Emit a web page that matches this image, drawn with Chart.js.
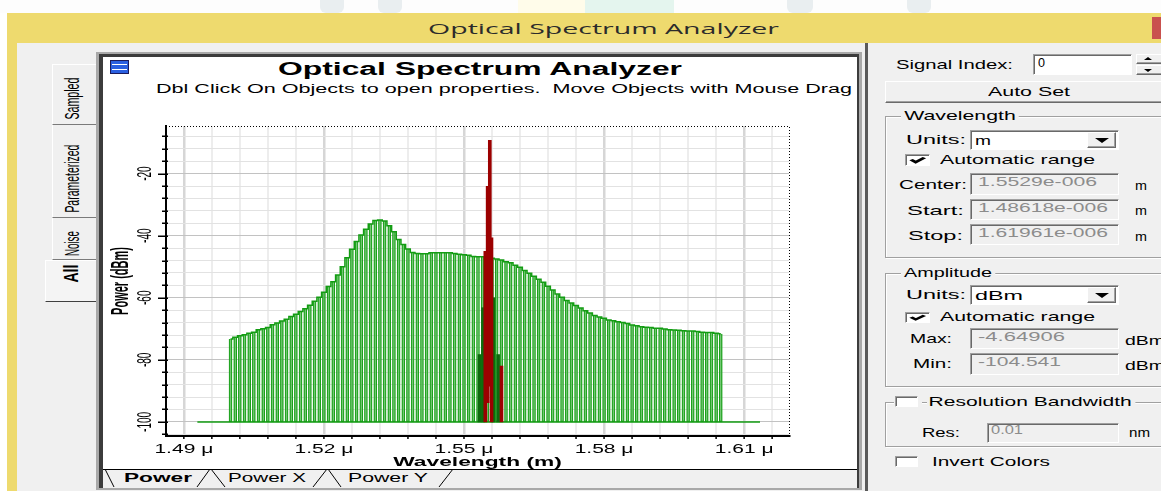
<!DOCTYPE html>
<html lang="en">
<head>
<meta charset="utf-8">
<title>Optical Spectrum Analyzer</title>
<script src="https://cdn.jsdelivr.net/npm/chart.js@4.4.1/dist/chart.umd.min.js"></script>
<style>
html,body{margin:0;padding:0;background:#fff;overflow:hidden;}
#root{position:relative;width:1161px;height:491px;overflow:hidden;font-family:"Liberation Sans",Arial,sans-serif;color:#000;}
#osa{position:absolute;left:104px;top:116px;width:752px;height:354px;}
</style>
</head>
<body>
<div id="root"></div>
<script>
// ---------------- data ----------------
const wavelengths = [
  1.500,1.501,1.502,1.503,1.504,1.505,1.506,1.507,1.508,1.509,
  1.510,1.511,1.512,1.513,1.514,1.515,1.516,1.517,1.518,1.519,
  1.520,1.521,1.522,1.523,1.524,1.525,1.526,1.527,1.528,1.529,
  1.530,1.531,1.532,1.533,1.534,1.535,1.536,1.537,1.538,1.539,
  1.540,1.541,1.542,1.543,1.544,1.545,1.546,1.547,1.548,1.549,
  1.550,1.551,1.552,1.553,1.554,1.555,1.556,1.557,1.558,1.559,
  1.560,1.561,1.562,1.563,1.564,1.565,1.566,1.567,1.568,1.569,
  1.570,1.571,1.572,1.573,1.574,1.575,1.576,1.577,1.578,1.579,
  1.580,1.581,1.582,1.583,1.584,1.585,1.586,1.587,1.588,1.589,
  1.590,1.591,1.592,1.593,1.594,1.595,1.596,1.597,1.598,1.599,
  1.600,1.601,1.602,1.603,1.604,1.605
];
const noisePower = [
  -73.3,-72.7,-72.2,-71.9,-71.4,-71.1,-70.3,-70.0,-69.6,-68.7,
  -68.1,-67.5,-66.9,-66.0,-65.3,-64.4,-63.5,-62.4,-61.1,-59.8,
  -58.2,-56.4,-54.8,-52.7,-50.0,-47.1,-44.4,-41.9,-39.8,-37.9,
  -36.2,-35.1,-34.9,-35.3,-36.8,-38.7,-41.2,-42.8,-44.3,-45.4,
  -45.7,-45.8,-45.8,-45.5,-45.5,-45.5,-45.5,-45.5,-45.7,-46.0,
  -46.1,-46.3,-46.7,-46.8,-46.8,-47.0,-47.3,-47.5,-47.8,-48.4,
  -48.7,-49.5,-50.2,-51.2,-52.1,-53.1,-54.0,-55.0,-56.3,-57.5,
  -58.8,-59.8,-60.9,-61.7,-62.5,-63.3,-64.2,-64.9,-65.7,-66.2,
  -66.6,-67.2,-67.4,-67.7,-68.0,-68.3,-68.8,-69.0,-69.3,-69.5,
  -69.6,-69.8,-69.8,-70.1,-70.3,-70.4,-70.5,-70.6,-70.7,-70.7,
  -70.9,-71.1,-71.2,-71.2,-71.4,-71.6
];
const floorWavelengths = [1.4929, 1.6134];
const floorPower = [-100, -100];
const signalWavelengths = [1.55457, 1.55507, 1.55553, 1.55589, 1.55803];
const signalPower = [-45.0, -24.1, -9.3, -40.7, -82.0];
const signalBase = [-100, -93.8, -88.5, -100, -100];
const sidebandWavelengths = [1.55333, 1.55407, 1.55628, 1.55731];
const sidebandPower = [-78.3, -63.2, -60.0, -78.3];

const xMin = 1.48618, xMax = 1.61961;
const yMin = -104.541, yMax = -4.64906;
const xTicks = [1.490,1.496,1.502,1.508,1.514,1.520,1.526,1.532,1.538,1.544,1.550,
                1.556,1.562,1.568,1.574,1.580,1.586,1.592,1.598,1.604,1.610,1.616];
const xMajorTicks = [1.49, 1.52, 1.55, 1.58, 1.61];
const xTickLabels = ['1.49 \u03bc', '1.52 \u03bc', '1.55 \u03bc', '1.58 \u03bc', '1.61 \u03bc'];
const yTicks = [-104,-100,-96,-92,-88,-84,-80,-76,-72,-68,-64,-60,-56,-52,-48,-44,-40,-36,-32,-28,-24,-20,-16,-12,-8];
const yMajorTicks = [-100, -80, -60, -40, -20];
const yTickLabels = ['-100', '-80', '-60', '-40', '-20'];

// ---------------- page helpers ----------------
const root = document.getElementById('root');
function box(x1, y1, x2, y2, css) {
  const d = document.createElement('div');
  d.style.cssText = `position:absolute;left:${x1}px;top:${y1}px;width:${x2-x1}px;height:${y2-y1}px;box-sizing:border-box;` + (css || '');
  root.appendChild(d);
  return d;
}
function txt(s, x, cy, w, size, css) {
  const d = document.createElement('span');
  d.textContent = s;
  d.style.cssText = `position:absolute;left:${x}px;top:${cy - size*0.6}px;font-size:${size}px;line-height:${size*1.2}px;white-space:pre;transform-origin:0 50%;` + (css || '');
  root.appendChild(d);
  if (w) {
    const nw = d.getBoundingClientRect().width;
    d.style.transform = `scaleX(${w / nw})`;
  }
  return d;
}
function vtxt(s, cx, cy, len, thick, size, css) {
  const d = document.createElement('span');
  d.textContent = s;
  d.style.cssText = `position:absolute;left:0;top:0;font-size:${size}px;line-height:${size*1.2}px;white-space:pre;` + (css || '');
  root.appendChild(d);
  const r = d.getBoundingClientRect();
  d.style.left = (cx - r.width / 2) + 'px';
  d.style.top = (cy - r.height / 2) + 'px';
  d.style.transformOrigin = '50% 50%';
  d.style.transform = `rotate(-90deg) scale(${len / r.width}, ${thick})`;
  return d;
}
const RAISED = 'background:#f0f0f0;border-top:1px solid #fff;border-left:1px solid #fff;border-right:1px solid #6a6a6a;border-bottom:1px solid #6a6a6a;box-shadow:inset -1px -1px 0 #a0a0a0;';
const SUNKEN = 'border-top:1px solid #a0a0a0;border-left:1px solid #a0a0a0;border-right:1px solid #fff;border-bottom:1px solid #fff;box-shadow:inset 1px 1px 0 #696969;';
const GROUP = 'border:1px solid #a0a0a0;box-shadow:inset 1px 1px 0 #fff, 1px 1px 0 #fff;';
function checkbox(x1, y1, x2, y2, checked) {
  const b = box(x1, y1, x2, y2, 'background:#fff;' + SUNKEN);
  if (checked) {
    b.innerHTML = '<svg width="100%" height="100%" viewBox="0 0 10 10" preserveAspectRatio="none" style="display:block"><polyline points="2.2,4.6 4.2,7.2 8,2.6" fill="none" stroke="#000" stroke-width="1.9"/></svg>';
  }
}
function combo(y1, y2, label, labelW) {
  box(970, y1, 1119, y2, 'background:#fff;' + SUNKEN);
  txt(label, 975, (y1 + y2) / 2 + 1, labelW, 13);
  box(1087, y1 + 2, 1116, y2 - 2, RAISED);
  box(1095, (y1 + y2) / 2 - 2, 1109, (y1 + y2) / 2 + 3, 'border-left:7px solid transparent;border-right:7px solid transparent;border-top:5px solid #000;width:0;height:0;');
}
function field(y1, y2, value, valueW, valueColor) {
  box(970, y1, 1119, y2, 'background:#f0f0f0;' + SUNKEN);
  txt(value, 978, y1 + 8.5, valueW, 13, 'color:' + valueColor + ';');
}

// ---------------- window chrome ----------------
box(0, 0, 1161, 13, 'background:#fdfdfd;');
box(320, 0, 344, 13, 'background:#e9eef0;border-radius:0 0 6px 6px;');
box(378, 0, 402, 13, 'background:#e9eef0;border-radius:0 0 6px 6px;');
box(518, 0, 585, 13, 'background:#fffcea;');
box(585, 0, 674, 13, 'background:#e4f5ee;');
box(787, 0, 813, 13, 'background:#e9eef0;border-radius:0 0 6px 6px;');
box(907, 0, 931, 13, 'background:#e9eef0;border-radius:0 0 6px 6px;');
box(7, 13, 1175, 43, 'background:#eeda6e;');
box(1152, 17, 1175, 39, 'background:#c9514e;');
txt('Optical Spectrum Analyzer', 428, 28, 351, 15, 'font-family:"Open Sans","Noto Sans",sans-serif;color:#2b2b2b;');
box(7, 43, 17, 491, 'background:#eeda6e;');
box(17, 43, 1175, 491, 'background:#f0f0f0;');

// left vertical tabs
box(52, 64, 96, 125, 'background:#f0f0f0;border-left:1px solid #fff;border-top:1px solid #fff;border-bottom:1px solid #7a7a7a;');
box(52, 125, 96, 218, 'background:#f0f0f0;border-left:1px solid #fff;border-bottom:1px solid #7a7a7a;');
box(52, 218, 96, 260, 'background:#f0f0f0;border-left:1px solid #fff;border-bottom:1px solid #7a7a7a;');
box(45, 260, 97, 302, 'background:#f4f4f4;border-left:1px solid #fff;border-top:1px solid #fff;border-bottom:1px solid #404040;');
vtxt('Sampled', 73, 99, 42, 1.8, 11);
vtxt('Parameterized', 73, 179, 68, 1.8, 11);
vtxt('Noise', 73, 244, 25, 1.8, 11);
vtxt('All', 72, 274, 18, 1.8, 11, 'font-weight:bold;');

// chart panel frame
box(96, 52, 862, 490, 'background:#a9a9a9;');
box(99, 54, 859, 488, 'background:#3c3c3c;');
box(103, 57, 857, 488, 'background:#fff;');
box(110, 60, 129, 74, 'background:#2a5fe0;border:1px solid #1a1a5a;');
box(112, 64, 127, 65, 'background:#fff;');
box(112, 69, 127, 70, 'background:#fff;');
txt('Optical Spectrum Analyzer', 278, 70, 404, 18, 'font-weight:bold;');
txt('Dbl Click On Objects to open properties.  Move Objects with Mouse Drag', 156, 89, 696, 12);

// chart canvas
const canvas = document.createElement('canvas');
canvas.id = 'osa';
canvas.width = 752; canvas.height = 354;
canvas.style.width = '752px'; canvas.style.height = '354px';
root.appendChild(canvas);

// bottom tab strip
box(103, 469, 857, 488, 'background:#f0f0f0;border-top:1px solid #000;');
const strip = document.createElementNS('http://www.w3.org/2000/svg', 'svg');
strip.setAttribute('width', '754'); strip.setAttribute('height', '19');
strip.style.cssText = 'position:absolute;left:103px;top:469px;';
strip.innerHTML = [[2,0,11,18],[94,18,107,0],[108,0,122,18],[210,18,224,0],[225,0,238,18],[336,18,350,0]]
  .map(p => `<line x1="${p[0]}" y1="${p[1]}" x2="${p[2]}" y2="${p[3]}" stroke="#000" stroke-width="1"/>`).join('');
root.appendChild(strip);
txt('Power', 124, 478, 68, 12, 'font-weight:bold;');
txt('Power X', 228, 478, 78, 12);
txt('Power Y', 348, 478, 80, 12);

// separator to the settings panel
box(865, 43, 868, 491, 'background:#5a5a5a;');

// ---------------- settings panel ----------------
txt('Signal Index:', 896, 65, 117, 13);
box(1033, 54, 1132, 75, 'background:#fff;' + SUNKEN);
txt('0', 1038, 63, 7, 12);
box(1136, 54, 1175, 64, RAISED);
box(1136, 65, 1175, 75, RAISED);
box(1144, 57, 1152, 61, 'border-left:4px solid transparent;border-right:4px solid transparent;border-bottom:3px solid #000;width:0;height:0;');
box(1144, 69, 1152, 73, 'border-left:4px solid transparent;border-right:4px solid transparent;border-top:3px solid #000;width:0;height:0;');
box(885, 81, 1175, 103, RAISED);
txt('Auto Set', 988, 92, 82, 13);

box(885, 116, 1175, 258, GROUP);
txt('Wavelength', 901, 116, 118, 13, 'background:#f0f0f0;padding:0 2px;');
txt('Units:', 906, 140, 60, 13);
combo(130, 150, 'm', 16);
checkbox(905, 154, 930, 166, true);
txt('Automatic range', 940, 160, 155, 13);
txt('Center:', 899, 185, 68, 13);
field(173, 195, '1.5529e-006', 119, '#8c8c8c');
txt('m', 1135, 186, 12, 13);
txt('Start:', 907, 211, 57, 13);
field(199, 220, '1.48618e-006', 130, '#8c8c8c');
txt('m', 1135, 211, 12, 13);
txt('Stop:', 908, 236, 55, 13);
field(224, 245, '1.61961e-006', 130, '#8c8c8c');
txt('m', 1135, 237, 12, 13);

box(885, 273, 1175, 387, GROUP);
txt('Amplitude', 901, 273, 94, 13, 'background:#f0f0f0;padding:0 2px;');
txt('Units:', 906, 295, 60, 13);
combo(285, 305, 'dBm', 48);
checkbox(905, 312, 930, 323, true);
txt('Automatic range', 940, 317, 155, 13);
txt('Max:', 910, 339, 42, 13);
field(328, 349, '-4.64906', 87, '#8c8c8c');
txt('dBm', 1125, 341, 40, 13);
txt('Min:', 913, 364, 39, 13);
field(353, 375, '-104.541', 83, '#8c8c8c');
txt('dBm', 1125, 366, 40, 13);

box(885, 402, 1175, 447, GROUP);
box(894, 395, 922, 409, 'background:#f0f0f0;');
checkbox(895, 396, 918, 407, false);
txt('Resolution Bandwidth', 927, 402, 208, 13, 'background:#f0f0f0;padding:0 2px 0 1px;');
txt('Res:', 922, 433, 38, 13);
box(987, 423, 1119, 443, 'background:#f0f0f0;' + SUNKEN);
txt('0.01', 991, 430, 32, 13, 'color:#8c8c8c;');
txt('nm', 1129, 433, 21, 13);
checkbox(895, 456, 918, 467, false);
txt('Invert Colors', 932, 462, 118, 13);

// ---------------- chart ----------------
const SX = 1.75;   // horizontal stretch of the captured text
const SROT = 2.1;  // stretch of rotated text (across its height)
const c2d = canvas.getContext('2d');
const baseFill = CanvasRenderingContext2D.prototype.fillText;
const baseMeasure = CanvasRenderingContext2D.prototype.measureText;
c2d.fillText = function (text, x, y) {
  const m = this.getTransform();
  const rotated = Math.abs(m.b) > 0.5;
  this.save();
  this.translate(x, y);
  if (rotated) this.scale(1, SROT); else this.scale(SX, 1);
  baseFill.call(this, text, 0, 0);
  this.restore();
};
c2d.measureText = function (text) {
  const r = baseMeasure.call(this, text);
  return {
    width: r.width * SX,
    actualBoundingBoxAscent: r.actualBoundingBoxAscent,
    actualBoundingBoxDescent: r.actualBoundingBoxDescent,
    actualBoundingBoxLeft: r.actualBoundingBoxLeft * SX,
    actualBoundingBoxRight: r.actualBoundingBoxRight * SX
  };
};

const isXMajor = v => xMajorTicks.some(m => Math.abs(m - v) < 1e-6);
const isYMajor = v => yMajorTicks.some(m => Math.abs(m - v) < 1e-6);

const axisDecor = {
  id: 'axisDecor',
  afterDraw(chart) {
    const {ctx, chartArea: a, scales: {x, y}} = chart;
    ctx.save();
    ctx.strokeStyle = '#000';
    ctx.lineWidth = 1;
    ctx.setLineDash([1, 2]);
    ctx.beginPath();
    ctx.moveTo(a.left, a.top + 0.5);
    ctx.lineTo(a.right + 0.5, a.top + 0.5);
    ctx.lineTo(a.right + 0.5, a.bottom);
    ctx.stroke();
    ctx.setLineDash([]);
    ctx.lineWidth = 1.5;
    y.ticks.forEach(t => {
      const py = Math.round(y.getPixelForValue(t.value)) + 0.25;
      const major = isYMajor(t.value);
      ctx.beginPath();
      ctx.moveTo(a.left - (major ? 8 : 4), py);
      ctx.lineTo(a.left + 2, py);
      ctx.stroke();
    });
    x.ticks.forEach(t => {
      const px = x.getPixelForValue(t.value);
      ctx.beginPath();
      ctx.moveTo(px, a.bottom);
      ctx.lineTo(px, a.bottom + 3);
      ctx.stroke();
    });
    ctx.fillStyle = '#000';
    ctx.font = '10px "Liberation Sans", Arial, sans-serif';
    ctx.textAlign = 'center';
    ctx.textBaseline = 'middle';
    yMajorTicks.forEach((v, i) => {
      const py = y.getPixelForValue(v);
      ctx.save();
      ctx.translate(a.left - 21, py);
      ctx.rotate(-Math.PI / 2);
      ctx.fillText(yTickLabels[i], 0, 0);
      ctx.restore();
    });
    ctx.restore();
  }
};

Chart.defaults.font.family = '"Liberation Sans", Arial, sans-serif';
Chart.defaults.color = '#000';

new Chart(c2d, {
  type: 'bar',
  data: {
    datasets: [
      {
        type: 'bar', label: 'Signal', order: 0, grouped: false,
        data: signalWavelengths.map((w, i) => ({x: w, y: [signalBase[i], signalPower[i]]})),
        backgroundColor: '#9c0000', borderWidth: 0, barThickness: 3
      },
      {
        type: 'bar', label: 'Signal (side samples)', order: 1, grouped: false,
        data: sidebandWavelengths.map((w, i) => ({x: w, y: [floorPower[0], sidebandPower[i]]})),
        backgroundColor: '#0e6a0e', borderWidth: 0, barThickness: 3
      },
      {
        type: 'line', label: 'Noise envelope', order: 2,
        data: wavelengths.map((w, i) => ({x: w, y: noisePower[i]})),
        stepped: 'middle', borderColor: '#139c13', borderWidth: 1.5, pointRadius: 0, fill: false
      },
      {
        type: 'line', label: 'Floor', order: 3,
        data: floorWavelengths.map((w, i) => ({x: w, y: floorPower[i]})),
        borderColor: '#139c13', borderWidth: 1.5, pointRadius: 0, fill: false
      },
      {
        type: 'bar', label: 'Noise', order: 4, grouped: false,
        data: wavelengths.map((w, i) => ({x: w, y: [floorPower[0], noisePower[i]]})),
        backgroundColor: 'rgba(140,210,140,0.35)', borderColor: '#17a017', borderWidth: 1, barThickness: 3
      }
    ]
  },
  options: {
    responsive: false,
    devicePixelRatio: 1,
    animation: false,
    events: [],
    layout: {padding: {top: 10, right: 67, left: 0, bottom: 0}},
    plugins: {legend: {display: false}, tooltip: {enabled: false}, title: {display: false}},
    scales: {
      x: {
        type: 'linear', min: xMin, max: xMax, offset: false,
        afterBuildTicks: s => { s.ticks = xTicks.map(v => ({value: v})); },
        afterFit: s => { s.height = 34; },
        grid: {
          offset: false, drawTicks: false,
          color: c => isXMajor(c.tick.value) ? '#d6d6d6' : '#ededed',
          lineWidth: c => isXMajor(c.tick.value) ? 2.5 : 2
        },
        border: {display: true, color: '#000', width: 2},
        ticks: {
          autoSkip: false, maxRotation: 0, minRotation: 0, padding: 6,
          font: {size: 12}, color: '#000',
          callback: v => { const i = xMajorTicks.findIndex(m => Math.abs(m - v) < 1e-6); return i >= 0 ? xTickLabels[i] : ''; }
        },
        title: {display: true, text: 'Wavelength (m)', color: '#000', font: {size: 13, weight: 'bold'}, padding: {top: 0, bottom: 0}}
      },
      y: {
        type: 'linear', min: yMin, max: yMax,
        afterBuildTicks: s => { s.ticks = yTicks.map(v => ({value: v})); },
        afterFit: s => { s.width = 62; },
        grid: {
          drawTicks: false,
          color: c => isYMajor(c.tick.value) ? '#c2c2c2' : '#e2e2e2',
          lineWidth: 1
        },
        border: {display: true, color: '#000', width: 2},
        ticks: {display: false},
        title: {display: true, text: 'Power (dBm)', color: '#000', font: {size: 11, weight: 'bold'}, padding: {top: 11, bottom: 0}}
      }
    }
  },
  plugins: [axisDecor]
});
</script>
</body>
</html>
